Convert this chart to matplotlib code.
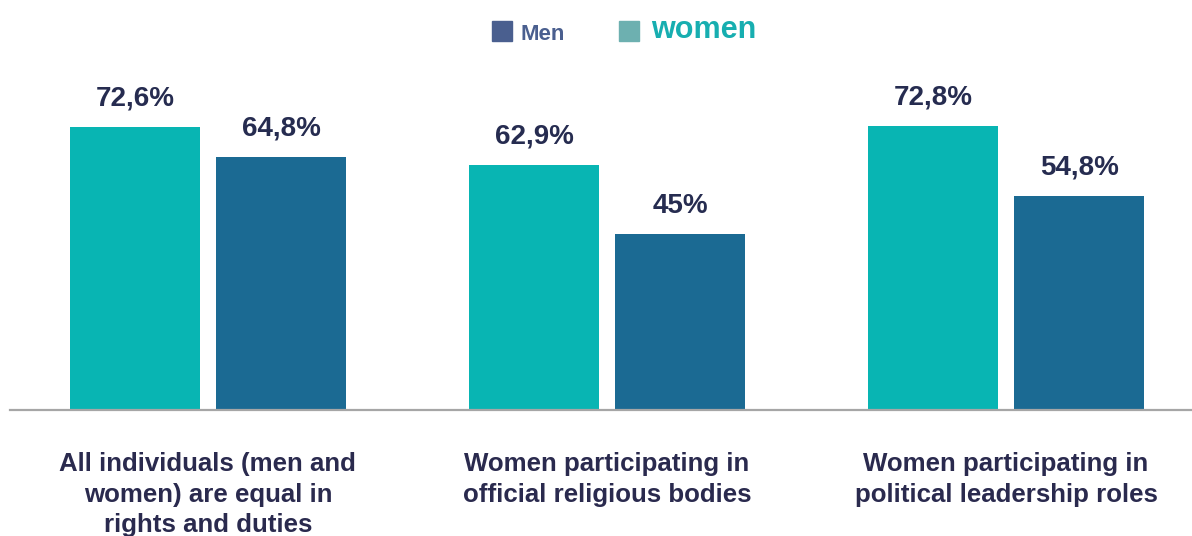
import matplotlib
matplotlib.use("Agg")
import matplotlib.pyplot as plt
from matplotlib.patches import Rectangle
import numpy as np

plt.rcParams['font.family'] = ['Liberation Sans', 'DejaVu Sans']

categories = [
    "All individuals (men and\nwomen) are equal in\nrights and duties",
    "Women participating in\nofficial religious bodies",
    "Women participating in\npolitical leadership roles",
]
women = [72.6, 62.9, 72.8]
men = [64.8, 45.0, 54.8]
women_labels = ["72,6%", "62,9%", "72,8%"]
men_labels = ["64,8%", "45%", "54,8%"]

WOMEN_BAR = "#08b5b3"
MEN_BAR = "#1b6a93"
LABEL_COLOR = "#262c50"
CAT_COLOR = "#2a2a4e"

W, H = 1192, 536
fig = plt.figure(figsize=(W / 100, H / 100), dpi=100)
ax = fig.add_axes([10 / W, (H - 410) / H, (W - 10) / W, 410 / H])

x = np.arange(len(categories))
width = 0.326
offset = 0.183
b_w = ax.bar(x - offset, women, width, color=WOMEN_BAR)
b_m = ax.bar(x + offset, men, width, color=MEN_BAR)

for bars, labels in ((b_w, women_labels), (b_m, men_labels)):
    for bar, lab in zip(bars, labels):
        ax.annotate(lab, (bar.get_x() + bar.get_width() / 2, bar.get_height()),
                    xytext=(0, 15.5), textcoords="offset points",
                    ha="center", va="baseline", fontsize=20,
                    fontweight="bold", color=LABEL_COLOR)

ax.set_xlim(-0.496, 2.466)
ax.set_ylim(0, 105.1)
ax.set_yticks([])
ax.set_xticks(x)
ax.set_xticklabels(categories, fontsize=18.6, fontweight="bold",
                   color=CAT_COLOR, linespacing=1.36)
ax.tick_params(axis="x", length=0, pad=30)
for s in ("top", "left", "right"):
    ax.spines[s].set_visible(False)
ax.spines["bottom"].set_color("#a6a6a6")
ax.spines["bottom"].set_linewidth(1.6)

# legend drawn in figure pixel space
def fig_rect(x0, y0, w, h, color):
    fig.patches.append(Rectangle((x0 / W, 1 - (y0 + h) / H), w / W, h / H,
                                 transform=fig.transFigure, color=color))

fig_rect(492, 21, 20, 20, "#4a5f8f")
fig.text(521 / W, 1 - 40 / H, "Men", fontsize=16, fontweight="bold",
         color="#4a5f8f", ha="left", va="baseline")
fig_rect(619, 21, 20, 20, "#6db0b0")
fig.text(651 / W, 1 - 38 / H, "women", fontsize=22, fontweight="bold",
         color="#17aeb0", ha="left", va="baseline")

fig.savefig("out.png", dpi=100)
